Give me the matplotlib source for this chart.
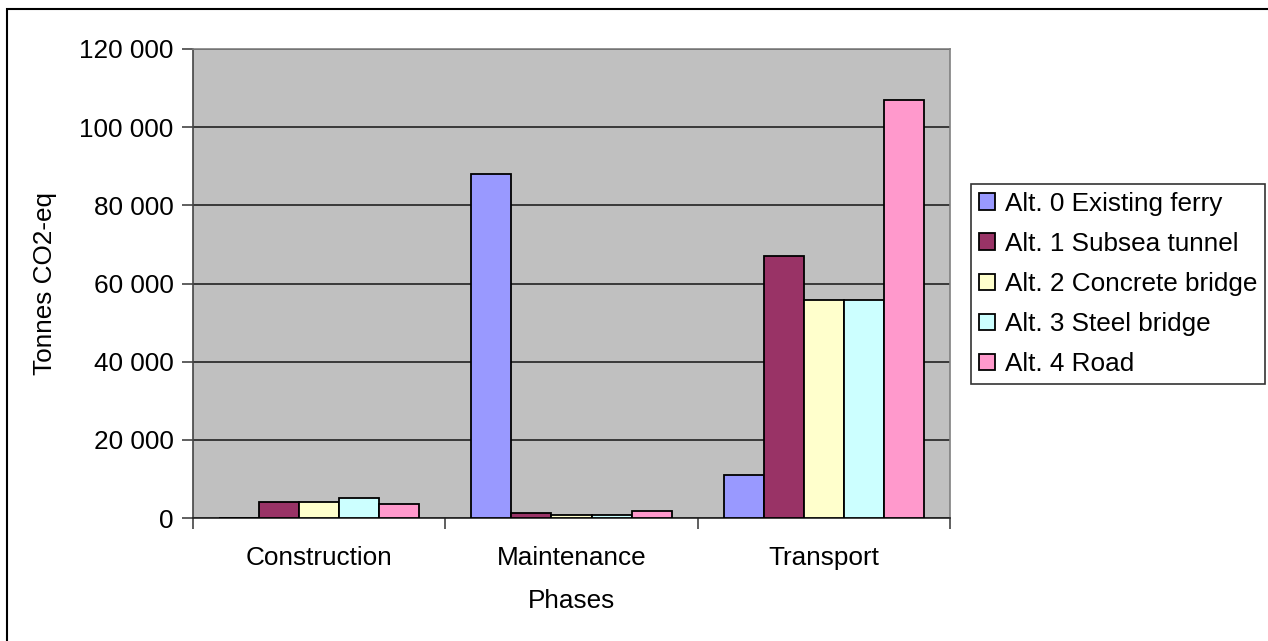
import matplotlib
matplotlib.use("Agg")
import matplotlib.pyplot as plt
import numpy as np
from matplotlib.patches import Rectangle
from matplotlib.ticker import FuncFormatter

plt.rcParams["font.family"] = ["Liberation Sans", "DejaVu Sans"]

# Emissions per phase and alternative (tonnes CO2-eq)
phases = ["Construction", "Maintenance", "Transport"]
alternatives = [
    "Alt. 0 Existing ferry",
    "Alt. 1 Subsea tunnel",
    "Alt. 2 Concrete bridge",
    "Alt. 3 Steel bridge",
    "Alt. 4 Road",
]
alt0_ferry = [0, 88000, 11100]
alt1_tunnel = [4100, 1400, 67000]
alt2_concrete = [4100, 800, 55800]
alt3_steel = [5100, 850, 55800]
alt4_road = [3700, 1800, 107000]
yticks = [0, 20000, 40000, 60000, 80000, 100000, 120000]

series = [alt0_ferry, alt1_tunnel, alt2_concrete, alt3_steel, alt4_road]
colors = ["#9999FF", "#993366", "#FFFFCC", "#CCFFFF", "#FF99CC"]
FS = 18.8

fig = plt.figure(figsize=(12.68, 6.41), dpi=100)
ax = fig.add_axes([193 / 1268, 1 - 518 / 641, (950 - 193) / 1268, (518 - 49) / 641])

# outer chart frame
fig.patches.append(Rectangle((7 / 1268, -0.05), 1.1, 0.05 + 1 - 9 / 641,
                             transform=fig.transFigure, fill=False,
                             edgecolor="black", linewidth=1.5))

x = np.arange(len(phases))
w = 0.159
for j, (vals, lab, col) in enumerate(zip(series, alternatives, colors)):
    ax.bar(x + (j - 2) * w, vals, width=w, color=col, edgecolor="black",
           linewidth=1.3, label=lab, zorder=3)

ax.set_facecolor("#C0C0C0")
ax.set_xlim(-0.5, 2.5)
ax.set_ylim(0, 120000)
ax.set_yticks(yticks)
ax.yaxis.set_major_formatter(FuncFormatter(lambda v, _p: f"{int(v):,}".replace(",", " ")))
ax.grid(axis="y", color="#222222", linewidth=1.2, zorder=1)

# category labels centred, ticks on the group boundaries
ax.set_xticks(x)
ax.set_xticklabels(phases)
ax.set_xticks([-0.5, 0.5, 1.5, 2.5], minor=True)
ax.tick_params(axis="x", which="major", length=0, pad=20, labelsize=FS)
ax.tick_params(axis="x", which="minor", length=8, width=1.2, color="#444444")
ax.tick_params(axis="y", length=8, width=1.2, labelsize=FS, pad=6, color="#444444")

for side in ("top", "right"):
    ax.spines[side].set_color("#808080")
    ax.spines[side].set_linewidth(1.2)
ax.spines["left"].set_color("#444444")
ax.spines["left"].set_linewidth(1.2)
ax.spines["bottom"].set_color("#222222")
ax.spines["bottom"].set_linewidth(1.2)

ax.set_xlabel("Phases", fontsize=FS, labelpad=14)
ax.set_ylabel("Tonnes CO2-eq", fontsize=FS, labelpad=16)

leg = ax.legend(loc="center left", bbox_to_anchor=(971 / 1268, 1 - 284 / 641),
                bbox_transform=fig.transFigure, fontsize=FS, frameon=True,
                fancybox=False, edgecolor="black", handlelength=0.6,
                handleheight=0.6, handletextpad=0.4, labelspacing=0.62,
                borderpad=0.3, borderaxespad=0)
leg.get_frame().set_linewidth(1.2)

fig.savefig("out.png", dpi=100, facecolor="white")
